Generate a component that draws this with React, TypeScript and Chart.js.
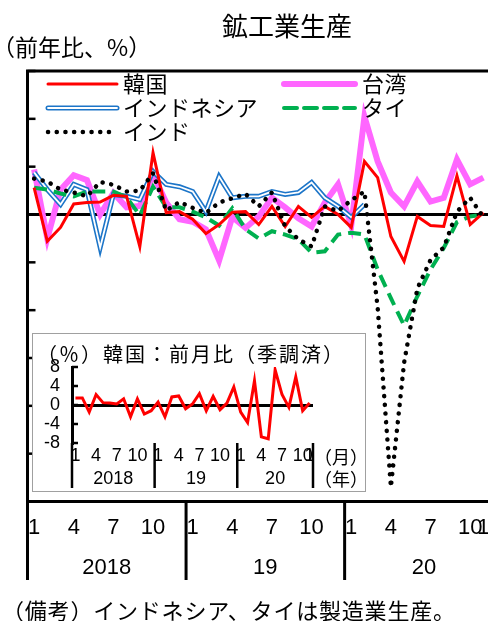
import React, { useEffect, useRef } from 'react';
import { Chart, registerables } from 'chart.js';

Chart.register(...registerables);

const JP = "'Noto Sans CJK JP', sans-serif";
const NUM = "'Liberation Sans', Arial, sans-serif";

const categories = [
  '2018-01', '2018-02', '2018-03', '2018-04', '2018-05', '2018-06', '2018-07', '2018-08', '2018-09', '2018-10', '2018-11', '2018-12',
  '2019-01', '2019-02', '2019-03', '2019-04', '2019-05', '2019-06', '2019-07', '2019-08', '2019-09', '2019-10', '2019-11', '2019-12',
  '2020-01', '2020-02', '2020-03', '2020-04', '2020-05', '2020-06', '2020-07', '2020-08', '2020-09', '2020-10', '2020-11', '2020-12',
];
const monthTickLabels = [
  '1', '', '', '4', '', '', '7', '', '', '10', '', '',
  '1', '', '', '4', '', '', '7', '', '', '10', '', '',
  '1', '', '', '4', '', '', '7', '', '', '10', '1', '',
];
const yearLabels = ['2018', '19', '20'];
const monthsPerYear = 12;

// 前年比（%）
const korea = [5.6, -5.6, -2.7, 2.2, 2.5, 2.6, 4.0, 3.8, -6.7, 12.9, 0.4, 0.6, -1.0, -4.0, -2.1, 0.5, 0.6, -2.1, 1.7, -2.5, 1.7, -0.6, 1.7, 0.0, -2.7, 11.1, 7.7, -4.6, -9.8, -0.4, -2.3, -2.5, 8.1, -2.1, 0.4, null];
const taiwan = [9.4, -5.0, 5.2, 8.2, 7.2, 0.0, 4.5, 1.5, 1.8, 8.4, 2.5, -1.0, -1.5, -3.1, -9.6, -0.5, -2.8, -0.4, 3.5, 1.5, -0.8, -2.5, 2.5, 6.3, -2.3, 20.5, 11.1, 4.6, 1.7, 6.9, 2.7, 3.5, 11.5, 6.3, 7.7, null];
const indonesia = [8.8, 5.2, 2.1, 6.3, 5.2, -6.9, 4.2, 3.8, 3.1, 9.0, 6.3, 5.8, 4.8, 0.6, 7.9, 3.5, 3.8, 3.8, 4.8, 4.2, 4.6, 6.7, 3.5, 1.7, -0.6, 2.1, null, null, null, null, null, null, null, null, null, null];
const thailand = [5.6, 5.2, 4.4, 3.8, 4.8, 4.8, 4.8, 3.6, -0.2, 5.8, 1.5, 1.5, 0.6, -0.6, -2.3, 1.3, -3.1, -5.0, -3.5, -4.2, -5.2, -8.0, -7.7, -4.2, -3.8, -4.2, -11.5, -17.5, -23.2, -17.1, -11.5, -7.0, -1.6, -0.4, 0.0, null];
const india = [7.5, 6.9, 5.2, 4.6, 3.8, 6.8, 6.2, 4.8, 5.0, 8.6, 0.8, 2.6, 1.4, 0.3, 2.5, 3.4, 4.3, 1.7, 4.6, -2.5, -5.2, -6.7, 1.7, 0.7, 3.0, 4.8, -19.5, -57.0, -31.0, -15.5, -9.5, -6.9, 0.6, 3.5, -0.6, null];

// 韓国：前月比（季調済、%）
const insetCategories = categories.slice(0, 35);
const insetTickLabels = monthTickLabels.slice(0, 35);
const koreaMoM = [1.5, 1.5, -1.5, 2.2, 0.5, 0.4, 0.2, 1.3, -2.5, 1.3, -1.9, -1.2, 0.6, -2.5, 1.7, 1.9, -0.8, 0.2, 2.4, -1.2, 1.8, -1.0, 0.4, 3.8, -1.5, -3.7, 5.1, -6.7, -7.1, 7.4, 2.2, -0.5, 5.9, -1.2, 0.4];

const mainY = { min: -60, max: 30, step: 10 };
const insetY = { min: -8, max: 8, step: 4 };

const MAIN_W = 560;
const MAIN_H = 629;
const INSET_W = 334;
const INSET_H = 159;

function sample(ctx: CanvasRenderingContext2D, ds: any, x1: number, x2: number, y: number) {
  ctx.save();
  ctx.strokeStyle = ds.borderColor;
  ctx.lineWidth = ds.borderWidth;
  ctx.setLineDash(ds.borderDash || []);
  ctx.lineCap = ds.borderCapStyle || 'butt';
  ctx.beginPath();
  ctx.moveTo(x1, y);
  ctx.lineTo(x2, y);
  ctx.stroke();
  ctx.restore();
}

function text(ctx: CanvasRenderingContext2D, s: string, x: number, y: number, font: string, align: CanvasTextAlign = 'left', spacing = '0px') {
  ctx.save();
  ctx.font = font;
  ctx.fillStyle = '#000';
  ctx.textAlign = align;
  ctx.textBaseline = 'middle';
  (ctx as any).letterSpacing = spacing;
  ctx.fillText(s, x, y);
  ctx.restore();
}

const mainDecor = {
  id: 'mainDecor',
  afterDraw(chart: any) {
    const { ctx, chartArea: a, scales } = chart;
    const x = scales.x;
    const y = scales.y;
    ctx.save();
    ctx.strokeStyle = '#000';
    ctx.lineWidth = 3;
    ctx.beginPath();
    ctx.moveTo(a.left - 1.5, a.top);
    ctx.lineTo(a.right, a.top);
    ctx.stroke();
    ctx.lineWidth = 2.5;
    y.ticks.forEach((t: any) => {
      const py = y.getPixelForValue(t.value);
      ctx.beginPath();
      ctx.moveTo(a.left, py);
      ctx.lineTo(a.left + 8, py);
      ctx.stroke();
    });
    const step = x.getPixelForTick(1) - x.getPixelForTick(0);
    const bound = (i: number) => x.getPixelForTick(0) - step / 2 + i * step;
    ctx.lineWidth = 3;
    for (let k = 0; k <= yearLabels.length; k++) {
      const bx = bound(k * monthsPerYear);
      ctx.beginPath();
      ctx.moveTo(bx, a.bottom);
      ctx.lineTo(bx, 580);
      ctx.stroke();
    }
    ctx.restore();
    yearLabels.forEach((lab, k) => {
      const cx = (bound(k * monthsPerYear) + bound((k + 1) * monthsPerYear)) / 2;
      text(ctx, lab, cx, 568, `22px ${NUM}`, 'center');
    });
    text(ctx, '（月）', 481, 533, `22px ${JP}`);
    text(ctx, '（年）', 481, 571, `22px ${JP}`);

    // legend
    const ds = chart.data.datasets;
    const items = [
      { idx: [0], x1: 48, x2: 117, tx: 123, y: 84 },
      { idx: [1], x1: 284, x2: 355, tx: 362, y: 84 },
      { idx: [2, 3], x1: 48, x2: 117, tx: 123, y: 108 },
      { idx: [4], x1: 284, x2: 355, tx: 362, y: 108 },
      { idx: [5], x1: 48, x2: 117, tx: 123, y: 132 },
    ];
    items.forEach((it) => {
      it.idx.forEach((i) => sample(ctx, { ...ds[i], borderCapStyle: 'round' }, it.x1, it.x2, it.y));
      text(ctx, ds[it.idx[0]].label, it.tx, it.y, `22px ${JP}`, 'left', '0.5px');
    });

    text(ctx, '鉱工業生産', 287, 26, `26px ${JP}`, 'center');
    text(ctx, '（前年比、%）', -8, 47, `23px ${JP}`);
    text(ctx, '（備考）インドネシア、タイは製造業生産。', 2, 611, `22px ${JP}`, 'left', '0.8px');
  },
};

const insetDecor = {
  id: 'insetDecor',
  afterDraw(chart: any) {
    const { ctx, chartArea: a, scales } = chart;
    const x = scales.x;
    const y = scales.y;
    ctx.save();
    ctx.strokeStyle = '#000';
    ctx.lineWidth = 2.5;
    y.ticks.forEach((t: any) => {
      const py = y.getPixelForValue(t.value);
      ctx.beginPath();
      ctx.moveTo(a.left, py);
      ctx.lineTo(a.left + 6, py);
      ctx.stroke();
    });
    const step = x.getPixelForTick(1) - x.getPixelForTick(0);
    const bound = (i: number) => x.getPixelForTick(0) - step / 2 + i * step;
    const bIdx = [0, 12, 24, insetCategories.length];
    ctx.lineWidth = 2.5;
    bIdx.forEach((i) => {
      const bx = bound(i);
      ctx.beginPath();
      ctx.moveTo(bx, a.bottom);
      ctx.lineTo(bx, 155);
      ctx.stroke();
    });
    ctx.restore();
    yearLabels.forEach((lab, k) => {
      const cx = (bound(bIdx[k]) + bound(bIdx[k + 1])) / 2;
      text(ctx, lab, cx, 146, `18px ${NUM}`, 'center');
    });
    text(ctx, '（月）', 282, 124, `18px ${JP}`);
    text(ctx, '（年）', 282, 146, `18px ${JP}`);
    text(ctx, '（％）韓国：前月比（季調済）', 5, 21, `20px ${JP}`, 'left', '2px');
  },
};

export default function App() {
  const mainRef = useRef<HTMLCanvasElement>(null);
  const insetRef = useRef<HTMLCanvasElement>(null);

  useEffect(() => {
    const main = new Chart(mainRef.current as HTMLCanvasElement, {
      type: 'line',
      data: {
        labels: categories,
        datasets: [
          { label: '韓国', data: korea, borderColor: '#FF0000', borderWidth: 3, order: 2 },
          { label: '台湾', data: taiwan, borderColor: '#FF66FF', borderWidth: 6, order: 6 },
          { label: 'インドネシア', data: indonesia, borderColor: '#1C75C8', borderWidth: 5, order: 5 },
          { label: 'インドネシア', data: indonesia, borderColor: '#FFFFFF', borderWidth: 1.8, order: 4 },
          { label: 'タイ', data: thailand, borderColor: '#00B050', borderWidth: 4, borderDash: [13, 7], order: 3 },
          { label: 'インド', data: india, borderColor: '#000000', borderWidth: 4.5, borderDash: [0.1, 8.6], borderCapStyle: 'round', order: 1 },
        ] as any,
      },
      options: {
        responsive: false,
        animation: false,
        layout: { padding: { left: 0, top: 71, right: MAIN_W - 503.2, bottom: 0 } },
        elements: { point: { radius: 0 }, line: { tension: 0 } },
        plugins: { legend: { display: false }, tooltip: { enabled: false }, title: { display: false } },
        scales: {
          x: {
            type: 'category',
            offset: true,
            grid: { display: false, drawTicks: false },
            border: { display: true, color: '#000', width: 3 },
            ticks: {
              autoSkip: false,
              maxRotation: 0,
              padding: 13,
              color: '#000',
              font: { family: NUM, size: 22 },
              callback: (_v: any, i: number) => monthTickLabels[i],
            },
            afterFit: (s: any) => { s.height = MAIN_H - 501.5; },
          },
          y: {
            min: mainY.min,
            max: mainY.max,
            ticks: { stepSize: mainY.step, display: false },
            grid: {
              drawTicks: false,
              color: (c: any) => (c.tick && c.tick.value === 0 ? '#000' : 'rgba(0,0,0,0)'),
              lineWidth: 3,
            },
            border: { display: true, color: '#000', width: 3 },
            afterFit: (s: any) => { s.width = 27.5; },
          },
        },
      } as any,
      plugins: [mainDecor],
    });

    const inset = new Chart(insetRef.current as HTMLCanvasElement, {
      type: 'line',
      data: {
        labels: insetCategories,
        datasets: [
          { label: '韓国', data: koreaMoM, borderColor: '#FF0000', borderWidth: 3 },
        ],
      },
      options: {
        responsive: false,
        animation: false,
        layout: { padding: { left: 0, top: 34, right: INSET_W - 281, bottom: 0 } },
        elements: { point: { radius: 0 }, line: { tension: 0 } },
        plugins: { legend: { display: false }, tooltip: { enabled: false }, title: { display: false } },
        scales: {
          x: {
            type: 'category',
            offset: true,
            grid: { display: false, drawTicks: false },
            border: { display: false },
            ticks: {
              autoSkip: false,
              maxRotation: 0,
              padding: 2,
              color: '#000',
              font: { family: NUM, size: 18 },
              callback: (_v: any, i: number) => insetTickLabels[i],
            },
            afterFit: (s: any) => { s.height = INSET_H - 110; },
          },
          y: {
            min: insetY.min,
            max: insetY.max,
            ticks: { stepSize: insetY.step, autoSkip: false, padding: 12, color: '#000', font: { family: NUM, size: 18 } },
            grid: {
              drawTicks: false,
              color: (c: any) => (c.tick && c.tick.value === 0 ? '#000' : 'rgba(0,0,0,0)'),
              lineWidth: 3,
            },
            border: { display: true, color: '#000', width: 3 },
            afterFit: (s: any) => { s.width = 40; },
          },
        },
      } as any,
      plugins: [insetDecor],
    });

    return () => {
      main.destroy();
      inset.destroy();
    };
  }, []);

  return (
    <div style={{ position: 'relative', width: 496, height: 629, margin: -8, overflow: 'hidden', background: '#fff' }}>
      <canvas ref={mainRef} width={MAIN_W} height={MAIN_H} style={{ position: 'absolute', left: 0, top: 0, width: MAIN_W, height: MAIN_H }} />
      <div style={{ position: 'absolute', left: 32, top: 333, width: INSET_W, height: INSET_H, boxSizing: 'border-box', border: '1px solid #a0a0a0', background: '#fff' }} />
      <canvas ref={insetRef} width={INSET_W} height={INSET_H} style={{ position: 'absolute', left: 32, top: 333, width: INSET_W, height: INSET_H }} />
    </div>
  );
}
